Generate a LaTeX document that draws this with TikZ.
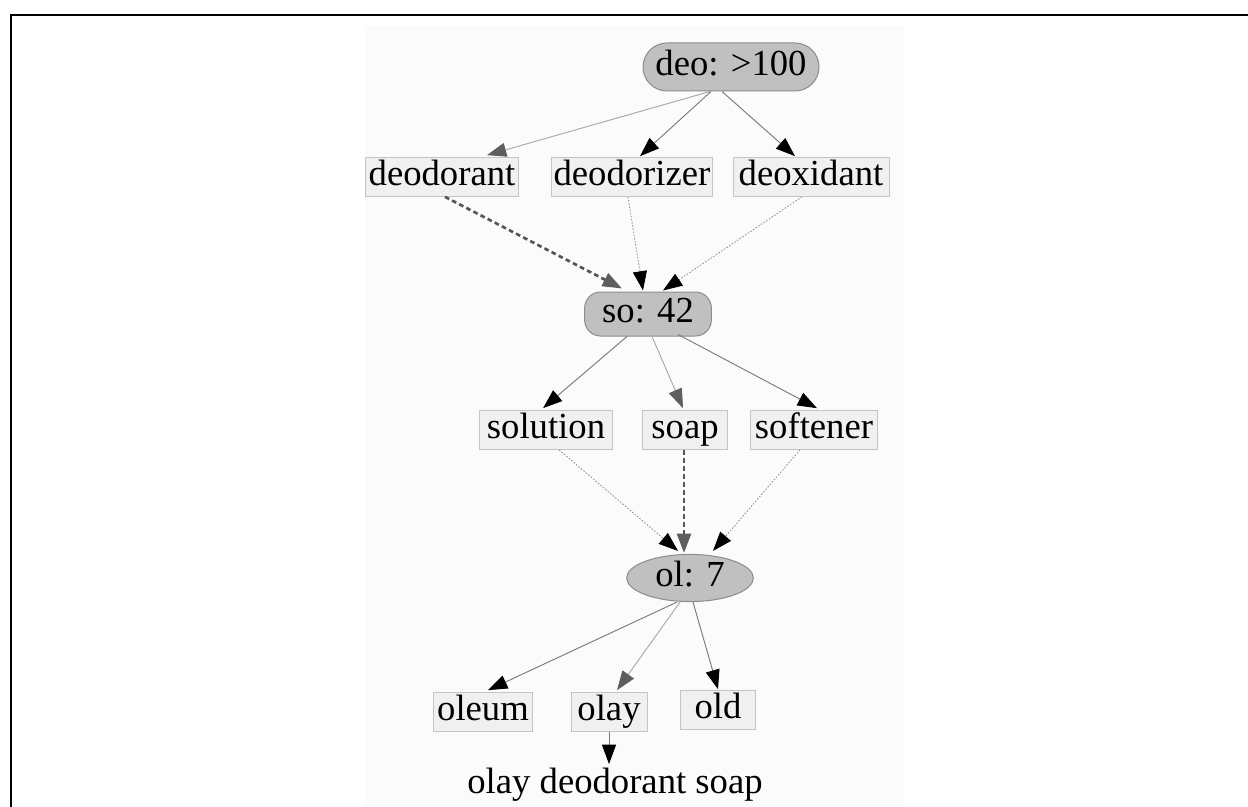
\documentclass[tikz,border=0pt]{standalone}
\usepackage{fontspec}
\setmainfont{Liberation Serif}
\usetikzlibrary{arrows.meta,shapes.geometric,calc}
\definecolor{boxfill}{HTML}{F0F0F0}
\definecolor{boxline}{HTML}{C4C4C4}
\definecolor{ovalfill}{HTML}{C0C0C0}
\definecolor{ovalline}{HTML}{8C8C8C}
\definecolor{panel}{HTML}{FBFBFB}
\definecolor{edgegray}{HTML}{7A7A7A}
\definecolor{lightgray}{HTML}{A8A8A8}
\definecolor{headgray}{HTML}{5E5E5E}
\definecolor{dashgray}{HTML}{555555}
\definecolor{dotgray}{HTML}{8E8E8E}
\begin{document}
\begin{tikzpicture}[x=0.75pt,y=-0.75pt,
  txt/.style={font=\fontsize{27.5}{30}\selectfont, text height=19pt, text depth=6pt, inner sep=0pt},
  wordbox/.style={txt, draw=boxline, fill=boxfill, line width=0.75pt, minimum height=29pt},
  ovalnode/.style={txt, draw=ovalline, fill=ovalfill, line width=0.75pt},
  plainedge/.style={draw=edgegray, line width=0.7pt, -{Triangle[length=14.5pt,width=10.5pt,black]}},
  lightedge/.style={draw=lightgray, line width=0.7pt, -{Triangle[length=14.5pt,width=10.5pt,headgray]}},
  thickdash/.style={draw=dashgray, line width=2pt, dash pattern=on 3.5pt off 2.5pt, -{Triangle[length=14.5pt,width=10.5pt,headgray]}},
  dotedge/.style={draw=dotgray, line width=0.6pt, dash pattern=on 1.2pt off 1.2pt, -{Triangle[length=14.5pt,width=10.5pt,black]}}
]
\useasboundingbox (0,0) rectangle (1248,806);
\fill[panel] (365,26) rectangle (904,806);
\draw[line width=1.5pt] (1260,15) -- (11,15) -- (11,820);

% level 1
\node[ovalnode, rectangle, rounded corners=18pt, minimum width=132pt, minimum height=36pt] (deo) at (731,67) {deo: >100};
\node[wordbox, minimum width=115pt] (deodorant) at (442,177) {deodorant};
\node[wordbox, minimum width=121pt] (deodorizer) at (632,177) {deodorizer};
\node[wordbox, minimum width=117pt] (deoxidant) at (811,177) {deoxidant};

% level 2
\node[ovalnode, rectangle, rounded corners=12pt, minimum width=95pt, minimum height=33pt] (so) at (648,314) {so: 42};
\node[wordbox, minimum width=100pt] (solution) at (546,430) {solution};
\node[wordbox, minimum width=64pt] (soap) at (685,430) {soap};
\node[wordbox, minimum width=95pt] (softener) at (814,430) {softener};

% level 3
\node[ovalnode, ellipse, minimum width=95pt, minimum height=33pt] (ol) at (690,578) {ol: 7};
\node[wordbox, minimum width=74pt] (oleum) at (483,712) {oleum};
\node[wordbox, minimum width=57pt] (olay) at (609,712) {olay};
\node[wordbox, minimum width=56pt] (old) at (718,710) {old};
\node[txt] (result) at (615,785) {olay deodorant soap};

% edges
\draw[lightedge] ($(deo.south)+(-21,0)$) -- ($(deodorant.north)+(45,-2)$);
\draw[plainedge] ($(deo.south)+(-20,0)$) -- ($(deodorizer.north)+(8,-1)$);
\draw[plainedge] ($(deo.south)+(-9,0)$) -- ($(deoxidant.north)+(-16,-1)$);

\draw[thickdash] ($(deodorant.south)+(3,0)$) -- ($(so.north)+(-26,-3)$);
\draw[dotedge] ($(deodorizer.south)+(-4,0)$) -- ($(so.north)+(-5,-1)$);
\draw[dotedge] ($(deoxidant.south)+(-9,0)$) -- ($(so.north)+(15,-1)$);

\draw[plainedge] ($(so.south)+(-21,0)$) -- ($(solution.north)+(-3,-2)$);
\draw[lightedge] ($(so.south)+(4,0)$) -- ($(soap.north)+(-2,-2)$);
\draw[plainedge] ($(so.south)+(30,-2)$) -- ($(softener.north)+(3,-2)$);

\draw[dotedge] ($(solution.south)+(13,0)$) -- ($(ol.north)+(-12,-3)$);
\draw[thickdash] ($(soap.south)+(-1,0)$) -- ($(ol.north)+(-6,-1)$);
\draw[dotedge] ($(softener.south)+(-14,0)$) -- ($(ol.north)+(23,-3)$);

\draw[plainedge] ($(ol.south)+(-13,0)$) -- ($(oleum.north)+(5,-2)$);
\draw[lightedge] ($(ol.south)+(-10,0)$) -- ($(olay.north)+(8,-2)$);
\draw[plainedge] ($(ol.south)+(3,0)$) -- ($(old.north)+(0,-1)$);

\draw[plainedge] (olay.south) -- ($(result.north)+(-6,-4)$);
\end{tikzpicture}
\end{document}
